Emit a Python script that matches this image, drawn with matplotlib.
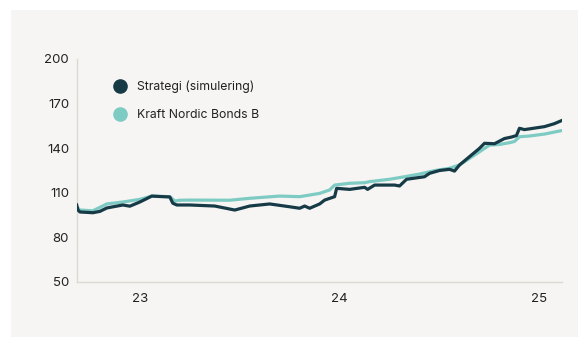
import matplotlib
matplotlib.use("Agg")
import matplotlib.pyplot as plt
from matplotlib.lines import Line2D
from matplotlib.patches import Rectangle

plt.rcParams['font.family'] = ['Inter', 'DejaVu Sans']

# Time in years (23 = 2023), values indexed
strategy_t = [22.684, 22.69, 22.70, 22.765, 22.80, 22.835, 22.875, 22.915, 22.95, 23.0,
              23.06, 23.10, 23.15, 23.165, 23.185, 23.25, 23.375, 23.475, 23.55, 23.65,
              23.75, 23.80, 23.825, 23.85, 23.90, 23.925, 23.975, 23.985, 24.05, 24.125,
              24.14, 24.175, 24.275, 24.30, 24.335, 24.425, 24.45, 24.50, 24.55, 24.575,
              24.60, 24.65, 24.70, 24.725, 24.775, 24.825, 24.86, 24.885, 24.90, 24.925,
              24.95, 25.025, 25.075, 25.11]
strategy_v = [101.8, 98.5, 97.1, 96.6, 97.5, 99.8, 100.8, 101.8, 101.0, 103.8,
              107.8, 107.5, 107.2, 103.0, 101.8, 101.8, 101.1, 98.4, 101.1, 102.5,
              100.6, 99.6, 101.1, 99.6, 102.5, 105.1, 107.4, 113.0, 112.3, 113.7,
              112.3, 115.2, 115.2, 114.6, 119.1, 120.8, 123.1, 125.0, 125.8, 124.6,
              128.7, 134.3, 139.9, 143.3, 143.0, 146.5, 147.5, 148.5, 153.4, 152.5,
              153.0, 154.5, 156.5, 158.5]

fund_t = [22.684, 22.70, 22.765, 22.835, 22.915, 23.0, 23.06, 23.15, 23.175, 23.20,
          23.25, 23.45, 23.55, 23.70, 23.80, 23.85, 23.90, 23.95, 23.975, 24.05,
          24.125, 24.15, 24.25, 24.325, 24.40, 24.475, 24.55, 24.60, 24.70, 24.75,
          24.80, 24.85, 24.875, 24.90, 24.95, 25.025, 25.11]
fund_v = [100.5, 98.4, 97.9, 102.5, 103.8, 105.6, 107.8, 107.4, 104.5, 105.0,
          105.1, 105.0, 106.3, 107.8, 107.4, 108.5, 109.6, 111.9, 115.2, 116.4,
          116.8, 117.5, 119.1, 120.8, 122.6, 124.9, 126.5, 128.7, 137.6, 142.1,
          142.5, 143.7, 144.5, 147.7, 148.2, 149.5, 151.8]

series_labels = ["Strategi (simulering)", "Kraft Nordic Bonds B"]
colors = ["#163b47", "#7ecbc4"]
x_ticks = [23, 24, 25]
x_ticklabels = ["23", "24", "25"]
y_ticks = [50, 80, 110, 140, 170, 200]

W, H = 578, 338
fig = plt.figure(figsize=(W / 100, H / 100), dpi=100)
fig.patch.set_facecolor("white")
fig.add_artist(Rectangle((11 / W, 1 / H), (W - 11) / W, (H - 11) / H,
                         transform=fig.transFigure, facecolor="#f6f5f3",
                         edgecolor="none", zorder=0))

ax = fig.add_axes([76.7 / W, (H - 282) / H, (562 - 76.7) / W, (282 - 59) / H])
ax.set_facecolor("none")

ax.plot(fund_t, fund_v, color=colors[1], lw=2.3, solid_joinstyle="round", zorder=2)
ax.plot(strategy_t, strategy_v, color=colors[0], lw=2.3, solid_joinstyle="round", zorder=3)

ax.set_xlim(22.684, 25.113)
ax.set_ylim(50, 200)
ax.set_xticks(x_ticks)
ax.set_xticklabels(x_ticklabels)
ax.set_yticks(y_ticks)
ax.tick_params(length=0, labelsize=9.5, colors="#222222")
ax.tick_params(axis="y", pad=5.5)
ax.tick_params(axis="x", pad=8)
for s in ["top", "right"]:
    ax.spines[s].set_visible(False)
for s in ["left", "bottom"]:
    ax.spines[s].set_color("#dcd9d3")
    ax.spines[s].set_linewidth(1.0)

handles = [Line2D([], [], marker="o", linestyle="", markersize=9.5,
                  markerfacecolor=c, markeredgecolor=c) for c in colors]
leg = ax.legend(handles, series_labels, loc="upper left",
                bbox_to_anchor=((113.5 - 76.7) / (562 - 76.7), (282 - 81) / (282 - 59)),
                frameon=False, fontsize=8.8, borderpad=0, borderaxespad=0,
                handlelength=1.1, handletextpad=0.8, labelspacing=1.3)
for t in leg.get_texts():
    t.set_color("#222222")

fig.savefig("out.png", dpi=100, facecolor="white")
